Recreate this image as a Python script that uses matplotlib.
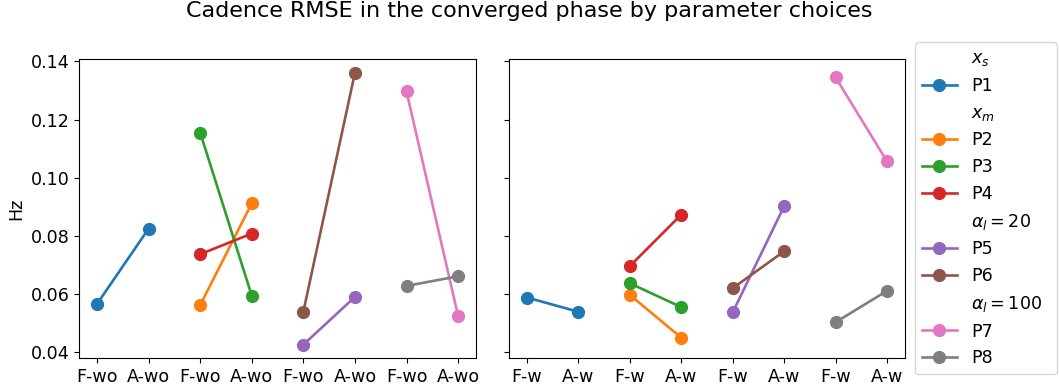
import matplotlib
matplotlib.use('Agg')
import matplotlib.pyplot as plt
from matplotlib.lines import Line2D

# Cadence RMSE values (Hz), first/second point for each parameter set
params = ['P1', 'P2', 'P3', 'P4', 'P5', 'P6', 'P7', 'P8']
groups = [0, 1, 1, 1, 2, 2, 3, 3]
colors = ['C0', 'C1', 'C2', 'C3', 'C4', 'C5', 'C6', 'C7']
wo_vals = [(0.0566, 0.0825), (0.0562, 0.0912), (0.1155, 0.0594), (0.0737, 0.0808),
           (0.0426, 0.0590), (0.0539, 0.1361), (0.1297, 0.0525), (0.0628, 0.0661)]
w_vals = [(0.0588, 0.0539), (0.0597, 0.0450), (0.0637, 0.0555), (0.0696, 0.0873),
          (0.0537, 0.0902), (0.0620, 0.0747), (0.1345, 0.1056), (0.0503, 0.0611)]
wo_labels = ['F-wo', 'A-wo'] * 4
w_labels = ['F-w', 'A-w'] * 4
headers = {0: '$x_s$', 1: '$x_m$', 4: r'$\alpha_l=20$', 6: r'$\alpha_l=100$'}

plt.rcParams['font.size'] = 12.6

fig = plt.figure(figsize=(10.59, 3.86), dpi=100)
ax1 = fig.add_axes([0.0746, 0.0725, 0.375, 0.7745])
ax2 = fig.add_axes([0.4806, 0.0725, 0.374, 0.7745], sharey=ax1)

for ax, vals in [(ax1, wo_vals), (ax2, w_vals)]:
    for p, g, c, v in zip(params, groups, colors, vals):
        ax.plot([2 * g, 2 * g + 1], v, '-o', color=c, lw=1.9, ms=8.5, label=p)

ax1.set_xticks(range(8))
ax1.set_xticklabels(wo_labels)
ax2.set_xticks(range(8))
ax2.set_xticklabels(w_labels)
ax1.set_yticks([0.04, 0.06, 0.08, 0.10, 0.12, 0.14])
ax1.set_ylim(0.038, 0.1408)
plt.setp(ax2.get_yticklabels(), visible=False)
ax1.set_ylabel('Hz')

# legend with section headers
handles, labels = [], []
for i, (p, c) in enumerate(zip(params, colors)):
    if i in headers:
        handles.append(Line2D([], [], alpha=0))
        labels.append(headers[i])
    handles.append(Line2D([], [], color=c, marker='o', lw=1.9, ms=8.5))
    labels.append(p)
fig.legend(handles, labels, loc='upper left', bbox_to_anchor=(0.864, 0.891, 0.134, 0.0),
           mode='expand', borderaxespad=0, labelspacing=0.5)

fig.suptitle('Cadence RMSE in the converged phase by parameter choices', fontsize=16, y=0.997)

fig.savefig('out.png', dpi=100)
